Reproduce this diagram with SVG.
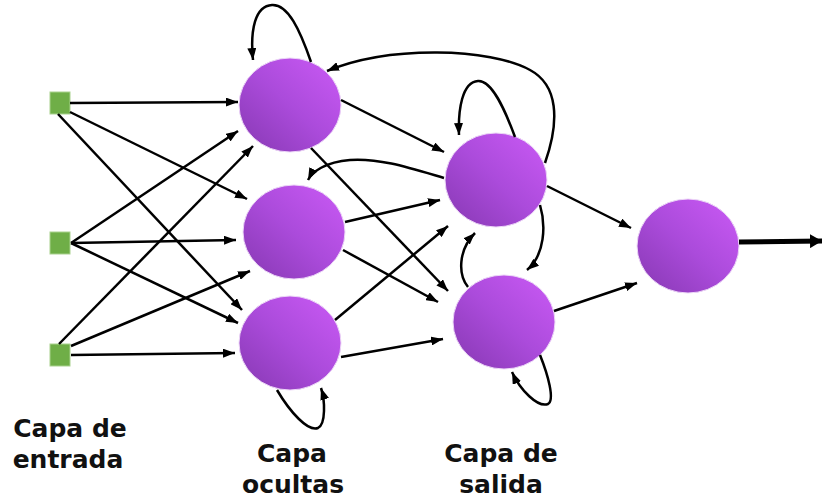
<svg xmlns="http://www.w3.org/2000/svg" width="822" height="498" viewBox="0 0 822 498">
<defs>
<linearGradient id="pg" x1="0" y1="1" x2="1" y2="0">
<stop offset="0" stop-color="#8638b2"/>
<stop offset="0.5" stop-color="#ab4bdb"/>
<stop offset="1" stop-color="#cb5af6"/>
</linearGradient>
<marker id="ah" viewBox="0 0 12 9" refX="12" refY="4.5" markerWidth="12" markerHeight="9" markerUnits="userSpaceOnUse" orient="auto">
<path d="M0,0 L12,4.5 L0,9 z" fill="#000"/>
</marker>
<marker id="ahb" viewBox="0 0 12 14" refX="12" refY="7" markerWidth="12" markerHeight="14" markerUnits="userSpaceOnUse" orient="auto">
<path d="M0,0 L12,7 L0,14 z" fill="#000"/>
</marker>
</defs>
<style>
.n{fill:url(#pg);stroke:#ecd6f7;stroke-width:1}
.in{fill:#6fae47;stroke:#a9d18e;stroke-width:1}
.c{fill:none;stroke:#000;stroke-width:2.5;marker-end:url(#ah)}
.t{font-family:"DejaVu Sans",sans-serif;font-weight:bold;font-size:25px;fill:#111;text-anchor:middle}
</style>
<rect width="822" height="498" fill="#fff"/>
<g id="in1"><rect class="in" x="50" y="92" width="20" height="22"/></g>
<g id="in2"><rect class="in" x="50" y="232" width="20" height="22"/></g>
<g id="in3"><rect class="in" x="50" y="344" width="20" height="22"/></g>
<g id="h1"><ellipse class="n" cx="290" cy="105" rx="51" ry="47"/></g>
<g id="h2"><ellipse class="n" cx="294" cy="232" rx="51" ry="47"/></g>
<g id="h3"><ellipse class="n" cx="290" cy="343" rx="51" ry="47"/></g>
<g id="o1"><ellipse class="n" cx="496" cy="180" rx="51" ry="47"/></g>
<g id="o2"><ellipse class="n" cx="504" cy="322" rx="51" ry="47"/></g>
<g id="f"><ellipse class="n" cx="688" cy="246" rx="51" ry="47"/></g>
<g id="connectors">
<path class="c" d="M70,103 L238,102"/>
<path class="c" d="M70,112 L247,199"/>
<path class="c" d="M58,114 L242,310"/>
<path class="c" d="M71,243 L238,131"/>
<path class="c" d="M71,243 L236,240"/>
<path class="c" d="M71,243 L238,323"/>
<path class="c" d="M59,344 L253,146"/>
<path class="c" d="M71,346 L250,271"/>
<path class="c" d="M71,355 L235,353"/>
<path class="c" d="M341,100 L444,152"/>
<path class="c" d="M311,148 L448,291"/>
<path class="c" d="M345,222 L440,200"/>
<path class="c" d="M343,250 L438,302"/>
<path class="c" d="M335,320 L448,226"/>
<path class="c" d="M341,357 L443,339"/>
<path class="c" d="M547,186 L631,228"/>
<path class="c" d="M554,311 L637,283"/>
<path d="M739,242 L822,241" fill="none" stroke="#000" stroke-width="5" marker-end="url(#ahb)"/>
<path class="c" d="M311,62 C300,30 288,4 272,5 C255,6 250,30 253,60"/>
<path class="c" d="M545,163 C560,120 558,85 530,70 C490,48 390,45 327,71"/>
<path class="c" d="M515,137 C505,110 492,80 478,81 C462,82 458,110 459,135"/>
<path class="c" d="M444,178 C410,168 380,158 350,160 C325,162 312,172 308,180"/>
<path class="c" d="M540,205 C546,225 545,255 527,270"/>
<path class="c" d="M468,287 C458,275 458,250 475,233"/>
<path class="c" d="M540,355 C548,375 555,400 548,404 C538,408 520,390 512,372"/>
<path class="c" d="M277,390 C290,412 308,432 318,428 C326,424 325,400 321,388"/>
</g>
<g id="labels">
<text class="t" x="70" y="437">Capa de</text>
<text class="t" x="68" y="468">entrada</text>
<text class="t" x="292" y="462">Capa</text>
<text class="t" x="293" y="493">ocultas</text>
<text class="t" x="501" y="462">Capa de</text>
<text class="t" x="501" y="493">salida</text>
</g>
</svg>
